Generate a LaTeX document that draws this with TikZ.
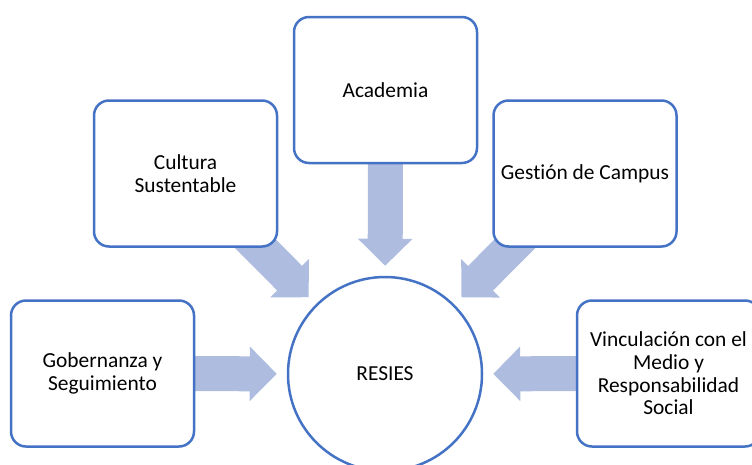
\documentclass[tikz,border=0pt]{standalone}
\usepackage{fontspec}
\setmainfont[Ligatures=NoCommon]{Carlito}
\usetikzlibrary{
    arrows.meta,
    positioning,
    backgrounds
}
\definecolor{primary}{HTML}{4472C4}
\definecolor{arrowblue}{HTML}{AEBCE0}
\definecolor{dark}{HTML}{000000}
\tikzset{
    % Pillar box style
    pillar/.style={
        rectangle,
        rounded corners=15pt,
        minimum width=183pt,
        minimum height=146pt,
        align=center,
        font=\fontsize{21.4}{22.6}\selectfont,
        text=dark,
        draw=primary,
        fill=white,
        line width=2.5pt
    },
    % Central circle style
    hub/.style={
        circle,
        minimum size=194pt,
        inner sep=0pt,
        align=center,
        font=\fontsize{21.4}{22.6}\selectfont,
        text=dark,
        draw=primary,
        fill=white,
        line width=2.5pt
    },
    % Block arrow style
    feed/.style={
        -{Triangle[length=27pt, width=53pt]},
        line width=35pt,
        color=arrowblue,
        shorten >=10pt
    }
}

\begin{document}
\begin{tikzpicture}[x=1pt, y=-1pt]

        \useasboundingbox (0,0) rectangle (752,464);

        % Center
        \node[hub] (resies) at (385, 374) {RESIES};

        % Pillars
        \node[pillar] (academia) at (385.5, 90) {Academia};
        \node[pillar] (cultura) at (185.5, 173.5) {Cultura\\Sustentable};
        \node[pillar] (gestion) at (585, 173.5) {Gestión de Campus};
        \node[pillar] (gobernanza) at (102.5, 373.5) {Gobernanza y\\Seguimiento};
        \node[pillar] (vinculacion) at (668.5, 373.5) {Vinculación con el\\Medio y\\Responsabilidad\\Social};

        % Connections
        \begin{scope}[on background layer]
            \draw[feed] (academia.center) -- (resies);
            \draw[feed] (cultura.center) -- (resies);
            \draw[feed] (gestion.center) -- (resies);
            \draw[feed] (gobernanza.center) -- (resies);
            \draw[feed] (vinculacion.center) -- (resies);
        \end{scope}

    \end{tikzpicture}
\end{document}
